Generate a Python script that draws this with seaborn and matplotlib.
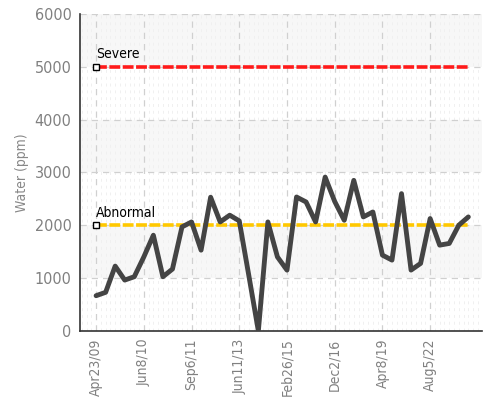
import numpy as np
import pandas as pd
import matplotlib
matplotlib.use('Agg')
import matplotlib.pyplot as plt
import seaborn as sns
from matplotlib.ticker import MultipleLocator

# --- Data ---
water_ppm = [666, 730, 1226, 962, 1025, 1400, 1811, 1025, 1170, 1968,
             2062, 1528, 2530, 2062, 2190, 2082, 1050, 0, 2062, 1400,
             1150, 2534, 2440, 2062, 2911, 2450, 2094, 2849, 2157, 2251,
             1434, 1340, 2598, 1151, 1277, 2126, 1623, 1655, 2000, 2157]
tick_labels = ['Apr23/09', 'Jun8/10', 'Sep6/11', 'Jun11/13',
               'Feb26/15', 'Dec2/16', 'Apr8/19', 'Aug5/22']
tick_every = 5
limit_names = ['Severe', 'Abnormal']
limit_values = [5000, 2000]
limit_colors = ['#ff1a1a', '#ffc800']

df = pd.DataFrame({'sample': np.arange(len(water_ppm)), 'water': water_ppm})

sns.set_style('white')
plt.rcParams['font.family'] = ['DejaVu Sans']
plt.rcParams['font.stretch'] = 'condensed'

fig = plt.figure(figsize=(4.9, 4.09), dpi=100)
ax = fig.add_axes([0.163, 0.191, 0.821, 0.775])

# alternating background bands
for lo in range(1000, 6000, 2000):
    ax.axhspan(lo, lo + 1000, color='#f7f7f7', zorder=0, lw=0)

# limit lines with their labels
n = len(water_ppm)
for name, val, col in zip(limit_names, limit_values, limit_colors):
    ax.plot([0, n - 1], [val, val], color=col, lw=2.6,
            dashes=(3, 0.7), zorder=2)
    ax.plot([0], [val], marker='s', ms=5, mfc='white', mec='black',
            mew=1.0, zorder=4, clip_on=False)
    ax.text(0, val + 100, name, fontsize=10, color='black',
            ha='left', va='bottom', zorder=4)

# main series
sns.lineplot(data=df, x='sample', y='water', ax=ax, color='#444444',
             lw=3.5, zorder=3)

ax.set_xlim(-1.7, n + 0.45)
ax.set_ylim(0, 6000)
ax.set_xticks(np.arange(0, n, tick_every))
ax.set_xticklabels(tick_labels, rotation=90)
ax.xaxis.set_minor_locator(MultipleLocator(0.5))
ax.set_yticks(range(0, 6001, 1000))
ax.set_xlabel('')
ax.set_ylabel('Water (ppm)', color='#888888', fontsize=10, labelpad=4)

ax.grid(True, which='major', color='#d0d0d0', ls=(0, (5, 4)), lw=0.9)
ax.grid(True, which='minor', axis='x', color='#f0f0f0', ls=(0, (3, 4)), lw=0.7)
ax.set_axisbelow(True)

for s in ['top', 'right']:
    ax.spines[s].set_visible(False)
for s in ['left', 'bottom']:
    ax.spines[s].set_color('#333333')
    ax.spines[s].set_linewidth(1.2)

ax.tick_params(axis='x', which='major', direction='inout', length=7,
               width=1.2, color='#333333', labelcolor='#808080',
               labelsize=10, pad=2)
ax.tick_params(axis='x', which='minor', direction='in', length=3,
               width=0.6, color='#e4e4e4')
ax.tick_params(axis='y', which='major', direction='out', length=5,
               width=1.2, color='#333333', labelcolor='#808080',
               labelsize=11.5, pad=1)

fig.savefig('out.png', dpi=100)
